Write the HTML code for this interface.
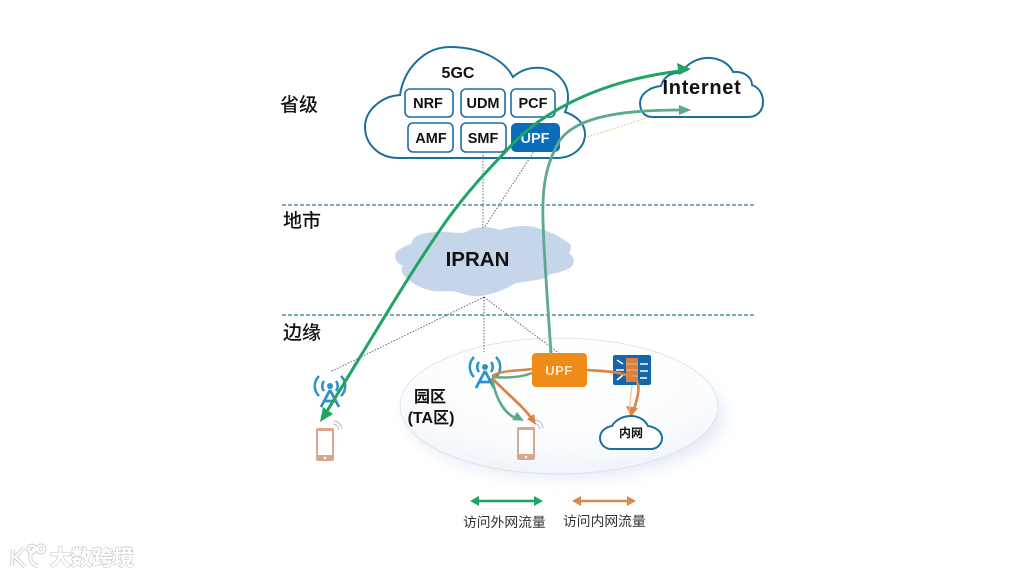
<!DOCTYPE html>
<html><head><meta charset="utf-8">
<style>
html,body{margin:0;padding:0;background:#fff;width:1024px;height:576px;overflow:hidden}
svg{display:block}
text{font-family:"Liberation Sans","Noto Sans CJK SC",sans-serif}
</style></head>
<body>
<svg width="1024" height="576" viewBox="0 0 1024 576" xmlns="http://www.w3.org/2000/svg">
<defs>
<radialGradient id="eg" cx="50%" cy="30%" r="72%">
<stop offset="0" stop-color="#ffffff"/><stop offset="0.65" stop-color="#fbfcfe"/><stop offset="1" stop-color="#eef3fa"/>
</radialGradient>
<filter id="b1" x="-15%" y="-20%" width="130%" height="150%"><feGaussianBlur stdDeviation="8"/></filter>
<g id="tower" fill="none" stroke="#2a94c6" stroke-width="2.5">
<circle cx="0" cy="-7" r="3" fill="#2a94c6" stroke="none"/>
<path d="M-6,-12 A8,8 0 0 0 -6,-2"/><path d="M6,-12 A8,8 0 0 1 6,-2"/>
<path d="M-11,-17 A14,14 0 0 0 -11,3"/><path d="M11,-17 A14,14 0 0 1 11,3"/>
<path d="M0,-3 L-9,14 M0,-3 L9,14 M-5,8 L5,8" stroke-width="2.8"/>
</g>
<g id="phone">
<rect x="0" y="0" width="18" height="33" rx="2" fill="#fff"/>
<path fill-rule="evenodd" d="M2,0 H16 A2,2 0 0 1 18,2 V31 A2,2 0 0 1 16,33 H2 A2,2 0 0 1 0,31 V2 A2,2 0 0 1 2,0 Z M2,3 V27 H16 V3 Z" fill="#d9a78d"/>
<circle cx="9" cy="30" r="1.2" fill="#fff"/>
<path d="M17,-4 Q22,-3 23,2 M18,-7 Q25,-6 26,1" fill="none" stroke="#b9b9b9" stroke-width="1"/>
</g>
</defs>

<rect width="1024" height="576" fill="#fff"/>

<!-- campus ellipse -->
<ellipse cx="566" cy="416" rx="158" ry="62" fill="#e3ebf6" filter="url(#b1)"/>
<ellipse cx="559" cy="406" rx="159" ry="68" fill="url(#eg)" stroke="#d6dde5" stroke-width="0.7"/>

<!-- dashed lines -->
<line x1="282" y1="205" x2="756" y2="205" stroke="#2f7d96" stroke-width="1.2" stroke-dasharray="4 2"/>
<line x1="282" y1="315" x2="756" y2="315" stroke="#2f7d96" stroke-width="1.2" stroke-dasharray="4 2"/>

<!-- 5GC cloud -->
<path d="M398,158 C378,158 365,143 365,127 C365,110 382,96 400,95 C404,68 425,47 450,47 C478,47 503,58 513,77 C522,69 532,67 542,68 C556,70 568,82 568,97 C568,103 567,108 565,112 C577,116 585,124 585,134 C585,148 572,158 557,158 Z" fill="#fff" stroke="#1b6f9f" stroke-width="2"/>

<!-- Internet cloud -->
<path d="M652,117 C644,117 640,110 640,103 C640,94 650,87 661,86 C664,76 672,72 681,73 C688,62 700,57 711,58 C722,59 730,65 733,72 C745,71 752,78 752,85 C760,88 763,95 763,102 C763,111 757,117 748,117 Z" fill="#fff" stroke="#1b6f9f" stroke-width="2"/>

<!-- IPRAN cloud -->
<path d="M410,281 C402,276 400,270 403,266 C394,262 392,253 400,249 C405,246 409,245 412,243 C412,235 425,232 440,232 C452,232 462,234 466,232 C475,226 490,226 500,230 C512,226 530,224 540,229 C552,232 562,238 570,244 C572,248 570,251 569,253 C576,258 575,266 568,269 C558,274 550,273 548,276 C540,282 522,280 512,285 C505,290 490,295 480,296 C465,297 460,291 450,291 C438,292 425,292 410,281 Z" fill="#c6d6ea"/>

<!-- dotted lines -->
<g fill="none" stroke="#4a5a66" stroke-width="0.9" stroke-dasharray="1.5 1.5">
<path d="M483,152 L483,228"/>
<path d="M535,150 L484,228"/>
<path d="M484,297 L484,352"/>
<path d="M484,297 L330,372"/>
<path d="M484,297 L560,354"/>
</g>
<path d="M587,137 L650,117" stroke="#e8c875" stroke-width="1" stroke-dasharray="2 1.5" fill="none"/>

<!-- module boxes -->
<g fill="#fff" stroke="#1b6f9f" stroke-width="1.6">
<rect x="405" y="89" width="48" height="28" rx="5"/>
<rect x="461" y="89" width="44" height="28" rx="5"/>
<rect x="511" y="89" width="44" height="28" rx="5"/>
<rect x="408" y="123" width="45" height="29" rx="5"/>
<rect x="461" y="123" width="45" height="29" rx="5"/>
</g>
<rect x="511" y="123" width="49" height="29" rx="5" fill="#0b6cb8"/>

<!-- labels in clouds -->
<g font-weight="700" fill="#111" text-anchor="middle">
<text x="458" y="78" font-size="16">5GC</text>
<text x="428" y="108" font-size="14.5">NRF</text>
<text x="483" y="108" font-size="14.5">UDM</text>
<text x="533" y="108" font-size="14.5">PCF</text>
<text x="431" y="143" font-size="14.5">AMF</text>
<text x="483" y="143" font-size="14.5">SMF</text>
<text x="535" y="143" font-size="14.5" fill="#e9f3fb">UPF</text>
<text x="702" y="94" font-size="20" letter-spacing="0.7">Internet</text>
<text x="477.500" y="266" font-size="20.5">IPRAN</text>
</g>

<!-- side labels -->
<g font-size="19" font-weight="500" fill="#111">
<text x="280" y="111">省级</text>
<text x="283" y="227">地市</text>
<text x="283" y="339">边缘</text>
</g>
<g font-size="16" font-weight="700" fill="#111" text-anchor="middle">
<text x="430" y="402">园区</text>
<text x="431" y="423">(TA区)</text>
</g>

<!-- towers and phones -->
<use href="#tower" x="330" y="393"/>
<use href="#tower" x="485" y="374"/>
<use href="#phone" x="316" y="428"/>
<use href="#phone" x="517" y="427"/>

<!-- green arrows -->
<path d="M324,416 C365,350 410,272 447,220 C470,188 490,168 507,150 C535,118 590,82 680,71" fill="none" stroke="#1fa463" stroke-width="3"/>
<path d="M320,422 L323,407 L333,414 Z" fill="#1fa463"/>
<path d="M691,69 L677,63 L679,75 Z" fill="#1fa463"/>
<path d="M551,354 C549,320 544,260 543,220 C542,190 545,165 560,140 C575,120 610,110 680,110" fill="none" stroke="#5ea88c" stroke-width="2.8"/>
<path d="M691,110 L679,105 L679,115 Z" fill="#5ea88c"/>

<!-- UPF orange -->
<rect x="532" y="353" width="55" height="34" rx="4" fill="#ef8c17"/>
<text x="559" y="375" font-size="13" font-weight="700" fill="#fbe7c8" text-anchor="middle" letter-spacing="0.5">UPF</text>

<!-- firewall -->
<rect x="613" y="355" width="38" height="30" rx="2" fill="#1565ac"/>
<rect x="626" y="358" width="12" height="24" fill="#d9803f"/>
<g stroke="#fff" stroke-width="1.5" fill="none">
<path d="M617,360 L623,364 M616,370 H624 M617,380 L623,375 M640,364 H648 M640,371 H648 M640,378 H647"/>
</g>
<g stroke="#f3c79f" stroke-width="0.7"><path d="M626,364 H638 M626,370 H638 M626,376 H638"/></g>

<!-- orange and green local flows -->
<path d="M492,376 C502,370 518,371 532,369" fill="none" stroke="#d98545" stroke-width="2.4"/>
<path d="M492,377 C505,378 520,378 532,373" fill="none" stroke="#5ea88c" stroke-width="2.4"/>
<path d="M492,378 C496,400 505,415 518,419" fill="none" stroke="#5ea88c" stroke-width="2.6"/>
<path d="M524,421 L512,420 L517,412 Z" fill="#5ea88c"/>
<path d="M492,378 C505,392 522,405 532,419" fill="none" stroke="#d98545" stroke-width="2.8"/>
<path d="M536,425 L527,419 L534,414 Z" fill="#d98545"/>
<path d="M587,370 C605,371 625,372 635,379 C642,385 637,400 633,412" fill="none" stroke="#dd8444" stroke-width="2.6"/>
<path d="M631,417 L626,406 L638,408 Z" fill="#dd8444"/>
<path d="M632,385 L629,412" stroke="#eec583" stroke-width="1.2" fill="none"/>

<!-- intranet cloud -->
<path d="M611,449 C604,449 600,443 600,438 C600,431 606,427 612,426 C616,419 624,416 631,416 C639,416 645,420 648,426 C656,427 662,432 662,438 C662,444 657,449 651,449 Z" fill="#fff" stroke="#1b6f9f" stroke-width="2"/>
<text x="631" y="437" font-size="12" font-weight="700" fill="#111" text-anchor="middle">内网</text>

<!-- legend -->
<path d="M476,501 H537" stroke="#1fa463" stroke-width="2.6"/>
<path d="M470,501 L479,496 V506 Z M543,501 L534,496 V506 Z" fill="#1fa463"/>
<path d="M578,501 H630" stroke="#d98a4c" stroke-width="2.6"/>
<path d="M572,501 L581,496 V506 Z M636,501 L627,496 V506 Z" fill="#d98a4c"/>
<text x="463" y="527" font-size="13.8" fill="#333">访问外网流量</text>
<text x="563" y="526" font-size="13.8" fill="#333">访问内网流量</text>

<!-- watermark -->
<g fill="none" stroke="#d0d0d0" stroke-width="4">
<path d="M13,549 L12,566 M24,548 L15,557 L25,567 M36,548 C28,552 28,564 38,566"/>
<circle cx="32" cy="549" r="3.5"/><circle cx="41" cy="549" r="3.5"/>
</g>
<g fill="none" stroke="#fff" stroke-width="2">
<path d="M13,549 L12,566 M24,548 L15,557 L25,567 M36,548 C28,552 28,564 38,566"/>
<circle cx="32" cy="549" r="3.5"/><circle cx="41" cy="549" r="3.5"/>
</g>
<text x="50" y="565" font-size="21" font-weight="700" fill="#fff" stroke="#cfcfcf" stroke-width="1.4" paint-order="stroke">大数跨境</text>
</svg>
</body></html>
